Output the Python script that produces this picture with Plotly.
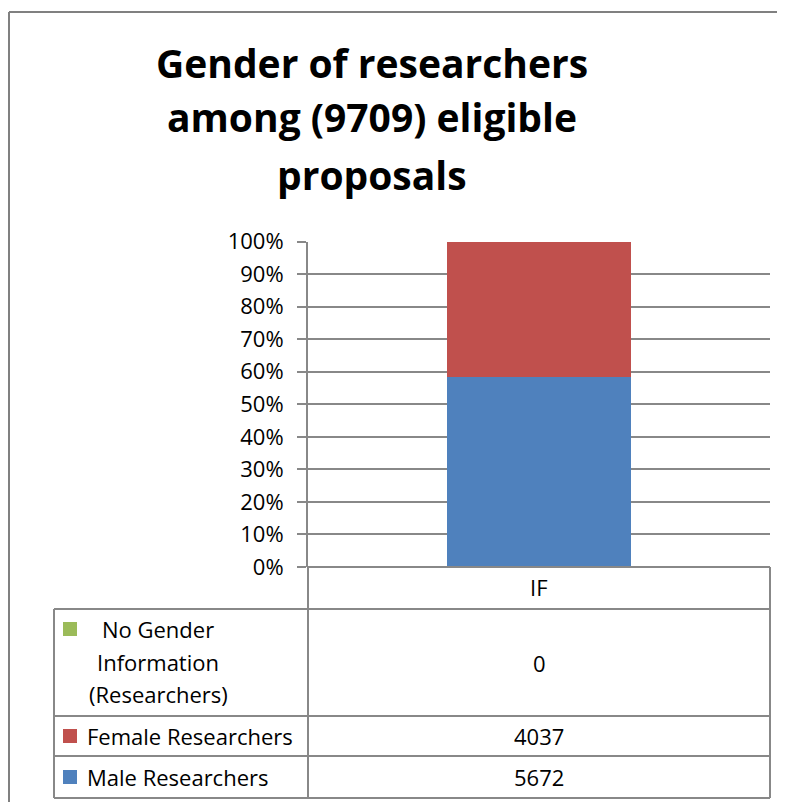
import plotly.graph_objects as go

# data
categories = ["IF"]
series_names = ["No Gender Information (Researchers)", "Female Researchers", "Male Researchers"]
series_labels = ["No Gender<br>Information<br>(Researchers)", "Female Researchers", "Male Researchers"]
series_values = [0, 4037, 5672]
series_colors = ["#9BBB59", "#C0504D", "#4F81BD"]
y_ticks = [0, 0.1, 0.2, 0.3, 0.4, 0.5, 0.6, 0.7, 0.8, 0.9, 1.0]
title_lines = ["Gender of researchers", "among (9709) eligible", "proposals"]

W, H = 785, 802
OFF = 8  # page body margin
FONT = "Open Sans"
GRID = "#888888"


# screen pixel -> paper coordinate
def px(x):
    return (x - OFF) / W


def py(y):
    return 1 - (y - OFF) / H


total = sum(series_values)
fig = go.Figure()

# stacked 100% column: male at bottom, then female, then no-gender
for name, val, col in reversed(list(zip(series_names, series_values, series_colors))):
    fig.add_trace(go.Bar(x=categories, y=[val / total], name=name,
                         marker=dict(color=col, line=dict(width=0)), showlegend=False))

fig.update_layout(
    width=W, height=H, autosize=False, barmode="stack", bargap=0.6,
    margin=dict(l=0, r=0, t=0, b=0),
    plot_bgcolor="white", paper_bgcolor="white",
    font=dict(family=FONT, color="black"),
)
fig.update_xaxes(domain=[px(308), px(770)], showticklabels=False, showgrid=False,
                 zeroline=False, showline=False, ticks="", automargin=False)
fig.update_yaxes(domain=[py(567), py(241.5)], range=[0, 1], tickvals=y_ticks,
                 tickformat=".0%", showgrid=True, gridcolor=GRID, gridwidth=2,
                 zeroline=False, showline=True, linecolor=GRID, linewidth=2,
                 ticks="outside", ticklen=9, tickcolor=GRID, tickwidth=2,
                 ticklabelstandoff=9, automargin=False,
                 tickfont=dict(family=FONT, size=22, color="black"))

# title
title_y = [62.5, 116, 174]
for line, ty in zip(title_lines, title_y):
    fig.add_annotation(x=px(372), y=py(ty), xref="paper", yref="paper",
                       text="<b>%s</b>" % line, showarrow=False,
                       font=dict(family=FONT, size=39, color="black"),
                       xanchor="center", yanchor="middle")

# outer frame (right and bottom sides fall outside the picture)
fig.add_shape(type="line", xref="paper", yref="paper", x0=px(9), y0=py(12), x1=1, y1=py(12),
              line=dict(color="#808080", width=2))
fig.add_shape(type="line", xref="paper", yref="paper", x0=px(9), y0=py(12), x1=px(9), y1=0,
              line=dict(color="#808080", width=2))

# data table grid
L, M, R = 54, 308, 770
row_lines = [609, 716, 756, 798]
line_style = dict(color=GRID, width=2)
fig.add_shape(type="line", xref="paper", yref="paper", x0=px(M), y0=py(567), x1=px(R), y1=py(567),
              line=line_style)
for yl in row_lines:
    fig.add_shape(type="line", xref="paper", yref="paper", x0=px(L), y0=py(yl), x1=px(R), y1=py(yl),
                  line=line_style)
for xl, ytop in [(M, 567), (R, 567), (L, 609)]:
    fig.add_shape(type="line", xref="paper", yref="paper", x0=px(xl), y0=py(ytop), x1=px(xl), y1=py(798),
                  line=line_style)

TS = 22
# header cell
fig.add_annotation(x=px((M + R) / 2), y=py(587), xref="paper", yref="paper", text=categories[0],
                   showarrow=False, font=dict(family=FONT, size=TS), xanchor="center", yanchor="middle")

value_y = [663, 736, 777]
key_y = [629, 736, 777]
for lab, val, col, vy, ky in zip(series_labels, series_values, series_colors, value_y, key_y):
    fig.add_shape(type="rect", xref="paper", yref="paper", x0=px(63), y0=py(ky - 7), x1=px(77), y1=py(ky + 7),
                  fillcolor=col, line=dict(width=0))
    parts = lab.split("<br>")
    if len(parts) == 1:
        fig.add_annotation(x=px(85), y=py(ky), xref="paper", yref="paper", text=lab, showarrow=False,
                           font=dict(family=FONT, size=TS), xanchor="left", yanchor="middle")
    else:
        for i, part in enumerate(parts):
            fig.add_annotation(x=px(158), y=py(ky + i * 32.5), xref="paper", yref="paper", text=part,
                               showarrow=False, font=dict(family=FONT, size=TS),
                               xanchor="center", yanchor="middle")
    fig.add_annotation(x=px((M + R) / 2), y=py(vy), xref="paper", yref="paper", text=str(val),
                       showarrow=False, font=dict(family=FONT, size=TS),
                       xanchor="center", yanchor="middle")

fig.write_html("out.html")
